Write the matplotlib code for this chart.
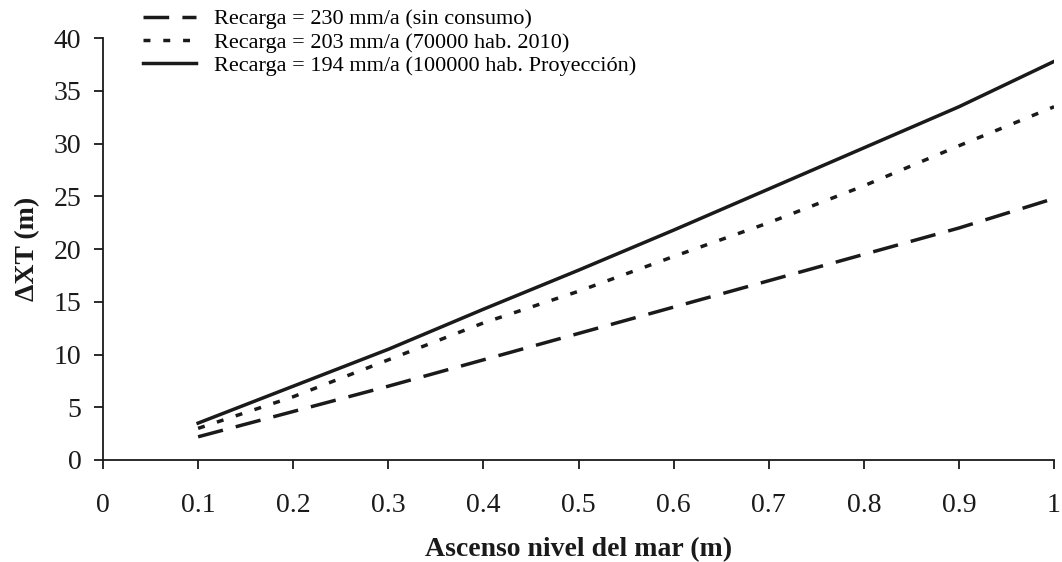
import numpy as np
import matplotlib.pyplot as plt

# -------------------------------------------------------------------
# DATA
# -------------------------------------------------------------------
ascenso = [0.1, 0.2, 0.3, 0.4, 0.5, 0.6, 0.7, 0.8, 0.9, 1.0]

dxt_230 = [2.2, 4.6, 7.0, 9.5, 12.0, 14.5, 17.0, 19.5, 22.0, 24.8]
dxt_203 = [3.0, 6.0, 9.5, 13.0, 16.0, 19.3, 22.5, 26.0, 29.8, 33.5]
dxt_194 = [3.5, 7.0, 10.5, 14.3, 18.0, 21.8, 25.7, 29.6, 33.5, 37.8]

labels = [
    "Recarga = 230 mm/a (sin consumo)",
    "Recarga = 203 mm/a (70000 hab. 2010)",
    "Recarga = 194 mm/a (100000 hab. Proyección)",
]

x_ticks = [0, 0.1, 0.2, 0.3, 0.4, 0.5, 0.6, 0.7, 0.8, 0.9, 1]
x_ticklabels = ["0", "0.1", "0.2", "0.3", "0.4", "0.5", "0.6", "0.7", "0.8", "0.9", "1"]
y_ticks = [0, 5, 10, 15, 20, 25, 30, 35, 40]

# -------------------------------------------------------------------
# PLOT
# -------------------------------------------------------------------
plt.rcParams["font.family"] = ["Liberation Serif", "DejaVu Serif"]
ink = "#1a1a1a"

fig = plt.figure(figsize=(10.62, 5.62), dpi=100)
ax = fig.add_axes([0.097, 0.1815, 0.8955, 0.7505])

lw = 2.5
l1, = ax.plot(ascenso, dxt_230, color=ink, lw=lw, dashes=(7.4, 3.8))
l2, = ax.plot(ascenso, dxt_203, color=ink, lw=lw, dashes=(2.0, 3.7))
l3, = ax.plot(ascenso, dxt_194, color=ink, lw=lw)

ax.set_xlim(0, 1)
ax.set_ylim(0, 40)
ax.set_xticks(x_ticks)
ax.set_xticklabels(x_ticklabels)
ax.set_yticks(y_ticks)
ax.tick_params(direction="out", length=6.5, width=1.3, labelsize=20, colors=ink)
ax.tick_params(axis="y", pad=9)
ax.tick_params(axis="x", pad=17)

for s in ["top", "right"]:
    ax.spines[s].set_visible(False)
for s in ["left", "bottom"]:
    ax.spines[s].set_linewidth(1.3)
    ax.spines[s].set_color(ink)

ax.set_xlabel("Ascenso nivel del mar (m)", fontsize=20, fontweight="bold",
              labelpad=14, color=ink)
ax.set_ylabel("ΔXT (m)", fontsize=20, fontweight="bold", labelpad=10, color=ink)

fig.legend([l1, l2, l3], labels, loc="upper left",
           bbox_to_anchor=(0.126, 1.0), frameon=False, fontsize=16,
           handlelength=2.4, handletextpad=0.8, labelspacing=0.12,
           borderaxespad=0)

fig.savefig("out.png", dpi=100)
